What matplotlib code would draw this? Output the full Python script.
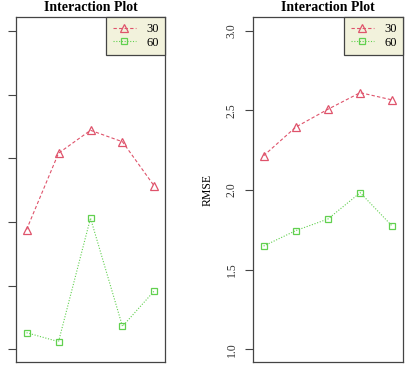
import matplotlib
matplotlib.use("Agg")
import matplotlib.pyplot as plt

plt.rcParams["font.family"] = ["Liberation Serif", "DejaVu Serif"]

# x positions of the five factor levels
levels = [1, 2, 3, 4, 5]
groups = ["30", "60"]

# left panel (tick labels cropped in the reference)
left_30 = [1.94, 2.54, 2.72, 2.63, 2.28]
left_60 = [1.13, 1.06, 2.03, 1.18, 1.46]
left_ticks = [1.0, 1.5, 2.0, 2.5, 3.0, 3.5]

# right panel, RMSE
right_30 = [2.215, 2.395, 2.507, 2.611, 2.565]
right_60 = [1.648, 1.745, 1.818, 1.983, 1.772]
right_ticks = [1.0, 1.5, 2.0, 2.5, 3.0]

RED = "#DF536B"
GREEN = "#61D04F"
SPINE = "#444444"

fig = plt.figure(figsize=(4.05, 3.77), dpi=100)
ax1 = fig.add_axes([16 / 405, 1 - 362 / 377, 149 / 405, 345 / 377])
ax2 = fig.add_axes([253 / 405, 1 - 362 / 377, 150 / 405, 345 / 377])


def draw(ax, s30, s60, ticks, ylim, show_labels):
    ax.plot(levels, s30, color=RED, ls=(0, (3, 2)), lw=0.8, marker="^",
            ms=6, mfc="none", mec=RED, mew=0.9, label=groups[0])
    ax.plot(levels, s60, color=GREEN, ls=(0, (1, 1.5)), lw=0.8, marker="s",
            ms=4.5, mfc="none", mec=GREEN, mew=0.9, label=groups[1])
    ax.set_xlim(0.67, 5.33)
    ax.set_ylim(*ylim)
    ax.set_xticks([])
    ax.set_yticks(ticks)
    if show_labels:
        ax.set_yticklabels([f"{t:.1f}" for t in ticks], rotation=90,
                           va="center", fontsize=8.5, color="#333333")
    else:
        ax.set_yticklabels([])
    ax.tick_params(axis="y", length=6, width=0.8, color=SPINE, pad=5)
    for sp in ax.spines.values():
        sp.set_color(SPINE)
        sp.set_linewidth(0.9)
    ax.set_title("Interaction Plot", fontsize=10, fontweight="bold", pad=4)
    leg = ax.legend(loc="upper right", borderaxespad=0, fancybox=False,
                    frameon=True, fontsize=9, handlelength=1.9,
                    handletextpad=0.8, labelspacing=0.1, borderpad=0.5,
                    markerfirst=True)
    leg.get_frame().set_facecolor("#F2F2DC")
    leg.get_frame().set_edgecolor(SPINE)
    leg.get_frame().set_linewidth(0.9)
    leg.get_frame().set_alpha(1)


draw(ax1, left_30, left_60, left_ticks, (0.9, 3.61), False)
draw(ax2, right_30, right_60, right_ticks, (0.92, 3.086), True)
ax2.set_ylabel("RMSE", fontsize=8.5, labelpad=9)

fig.savefig("out.png", dpi=100)
